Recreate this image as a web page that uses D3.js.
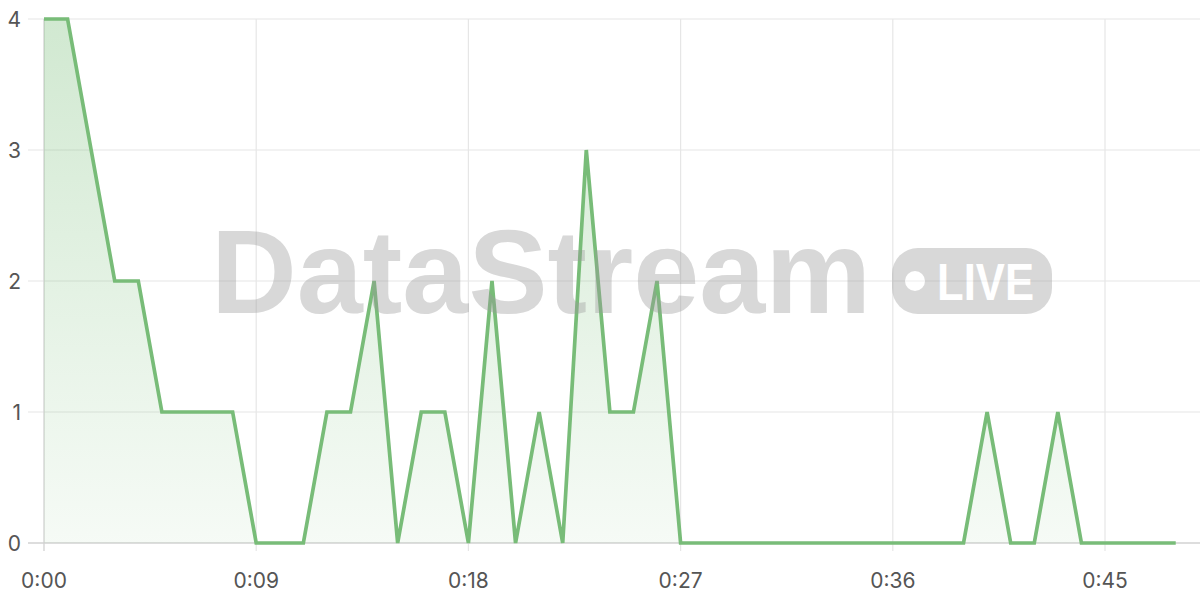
<!DOCTYPE html>
<html><head><meta charset="utf-8">
<script src="https://cdn.jsdelivr.net/npm/d3@7"></script>
<style>html,body{margin:0;padding:0;background:#fff;}svg{display:block;font-family:"Helvetica Neue",Inter,"Liberation Sans",Arial,sans-serif;}</style>
</head><body>
<svg id="c" width="1200" height="600"></svg>
<script>
const seconds = d3.range(0, 49);
const values = [4,4,3,2,2,1,1,1,1,0,0,0,1,1,2,0,1,1,0,2,0,1,0,3,1,1,2,0,0,0,0,0,0,0,0,0,0,0,0,0,1,0,0,1,0,0,0,0,0];
const xTicks = [0, 9, 18, 27, 36, 45];
const xTickLabels = ["0:00","0:09","0:18","0:27","0:36","0:45"];
const yTicks = [0, 1, 2, 3, 4];

const svg = d3.select("#c");
const x = d3.scaleLinear().domain([0, 45]).range([44, 1105]);
const y = d3.scaleLinear().domain([0, 4]).range([543, 19]);
const data = seconds.map((s, i) => ({s, v: values[i]}));

const defs = svg.append("defs");
const g = defs.append("linearGradient").attr("id","fillg").attr("x1",0).attr("x2",0)
  .attr("gradientUnits","userSpaceOnUse").attr("y1",19).attr("y2",543);
g.append("stop").attr("offset",0).attr("stop-color","#7bbf7b").attr("stop-opacity",0.35);
g.append("stop").attr("offset",1).attr("stop-color","#7bbf7b").attr("stop-opacity",0.07);

// grid
svg.append("g").selectAll("line").data(yTicks.filter(d=>d>0)).join("line")
  .attr("x1", 28).attr("x2", 1200).attr("y1", d=>y(d)).attr("y2", d=>y(d))
  .attr("stroke", "#e6e6e6").attr("stroke-width", 1.2);
svg.append("g").selectAll("line").data(xTicks.filter(d=>d>0)).join("line")
  .attr("x1", d=>x(d)).attr("x2", d=>x(d)).attr("y1", 19).attr("y2", 551)
  .attr("stroke", "#e6e6e6").attr("stroke-width", 1.2);
// axes lines
svg.append("line").attr("x1", 28).attr("x2", 1200).attr("y1", y(0)).attr("y2", y(0))
  .attr("stroke", "#d2d2d2").attr("stroke-width", 1.3);
svg.append("line").attr("x1", x(0)).attr("x2", x(0)).attr("y1", 19).attr("y2", 551)
  .attr("stroke", "#d2d2d2").attr("stroke-width", 1.3);

// area + line
svg.append("path").datum(data)
  .attr("d", d3.area().x(d=>x(d.s)).y0(y(0)).y1(d=>y(d.v)))
  .attr("fill", "url(#fillg)");
svg.append("path").datum(data)
  .attr("d", d3.line().x(d=>x(d.s)).y(d=>y(d.v)))
  .attr("fill", "none").attr("stroke", "#78bc78").attr("stroke-width", 3.7).attr("stroke-linejoin","miter");

// tick labels
svg.append("g").selectAll("text").data(yTicks).join("text")
  .attr("x", 21).attr("y", d=>y(d)).attr("dy","0.36em").attr("text-anchor","end")
  .attr("font-size", 21).attr("fill", "#555").text(d=>d);
svg.append("g").selectAll("text").data(xTicks).join("text")
  .attr("x", d=>x(d)).attr("y", 588).attr("text-anchor","middle")
  .attr("font-size", 21).attr("fill", "#555").text((d,i)=>xTickLabels[i]);

// watermark
const wm = svg.append("g").attr("opacity", 0.38);
wm.append("text").attr("x", 211).attr("y", 313).attr("font-size", 118).attr("font-weight", "bold")
  .attr("font-family", "'Liberation Sans', Arial, sans-serif")
  .attr("textLength", 660).attr("lengthAdjust","spacingAndGlyphs")
  .attr("fill", "#9a9a9a").text("DataStream");
wm.append("rect").attr("x", 892).attr("y", 248).attr("width", 160).attr("height", 66).attr("rx", 26)
  .attr("fill", "#9a9a9a");
wm.append("circle").attr("cx", 915).attr("cy", 281).attr("r", 10).attr("fill", "#fff");
wm.append("text").attr("x", 937).attr("y", 300).attr("font-size", 51).attr("font-weight", "bold")
  .attr("font-family", "'Liberation Sans', Arial, sans-serif")
  .attr("textLength", 97).attr("lengthAdjust","spacingAndGlyphs")
  .attr("fill", "#fff").text("LIVE");
</script>
</body></html>
